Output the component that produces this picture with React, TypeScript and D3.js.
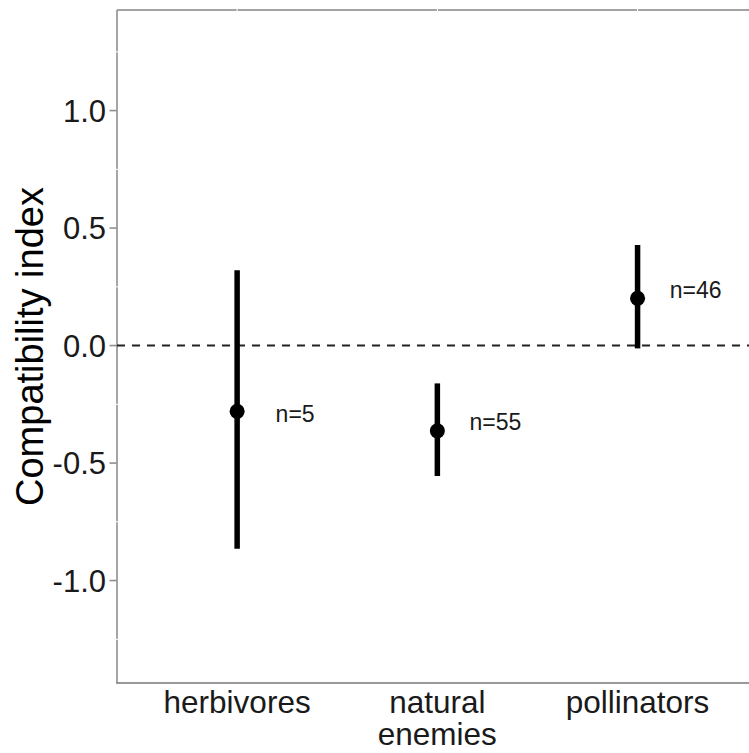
import React from "react";
import * as d3 from "d3";

const categories = ["herbivores", "natural enemies", "pollinators"];
const categoryLines = [["herbivores"], ["natural", "enemies"], ["pollinators"]];
const means = [-0.28, -0.363, 0.201];
const lowers = [-0.865, -0.555, -0.012];
const uppers = [0.32, -0.161, 0.428];
const nLabels = ["n=5", "n=55", "n=46"];
const labelY = [-0.291, -0.324, 0.236];
const yTicks = [-1.0, -0.5, 0.0, 0.5, 1.0];
const yMinor = [-1.25, -0.75, -0.25, 0.25, 0.75, 1.25];

const W = 749;
const H = 753;
const left = 117;
const top = 10;
const bottom = 683;
const right = 749;

export default function App() {
  const y = d3.scaleLinear().domain([-1.436, 1.428]).range([bottom, top]);
  const x = d3.scalePoint<string>().domain(categories).range([left, 757.7]).padding(0.6);
  const font = "'Liberation Sans', Arial, sans-serif";

  return (
    <svg width={W} height={H} style={{ position: "absolute", left: 0, top: 0, background: "#fff" }} fontFamily={font}>
      {/* border lines */}
      <line x1={left} x2={right} y1={top} y2={top} stroke="#858585" strokeWidth={1.6} />
      <line x1={left} x2={left} y1={top} y2={bottom} stroke="#8f8f8f" strokeWidth={1.6} />
      {/* white grid lines */}
      {yMinor.map((v) => (
        <line key={"gm" + v} x1={left - 1} x2={right} y1={y(v)} y2={y(v)} stroke="#fff" strokeWidth={1} />
      ))}
      {categories.map((c) => (
        <line key={"gx" + c} x1={x(c)} x2={x(c)} y1={top - 1} y2={bottom} stroke="#fff" strokeWidth={1} />
      ))}
      <line x1={left - 0.8} x2={right} y1={bottom} y2={bottom} stroke="#777" strokeWidth={1.6} />
      {/* y ticks */}
      {yTicks.map((v) => (
        <g key={"t" + v}>
          <line x1={left - 7.5} x2={left} y1={y(v)} y2={y(v)} stroke="#8f8f8f" strokeWidth={1.6} />
          <text x={106} y={y(v)} dy="0.36em" textAnchor="end" fontSize={31} fill="#1a1a1a">
            {d3.format(".1f")(v).replace("−", "-")}
          </text>
        </g>
      ))}
      {/* zero line */}
      <line x1={left} x2={right} y1={y(0)} y2={y(0)} stroke="#222" strokeWidth={2} strokeDasharray="8,7" />
      {/* error bars and points */}
      {categories.map((c, i) => (
        <g key={"p" + c}>
          <line x1={x(c)} x2={x(c)} y1={y(lowers[i])} y2={y(uppers[i])} stroke="#000" strokeWidth={5.5} />
          <circle cx={x(c)} cy={y(means[i])} r={7.5} fill="#000" />
          <text x={(x(c) as number) + 58} y={y(labelY[i])} dy="0.36em" textAnchor="middle" fontSize={23} fill="#1a1a1a">
            {nLabels[i]}
          </text>
        </g>
      ))}
      {/* x labels */}
      {categories.map((c, i) => (
        <text key={"xl" + c} x={x(c)} y={713} textAnchor="middle" fontSize={31.5} fill="#1a1a1a">
          {categoryLines[i].map((ln, j) => (
            <tspan key={j} x={x(c)} dy={j === 0 ? 0 : 32}>
              {ln}
            </tspan>
          ))}
        </text>
      ))}
      {/* y title */}
      <text transform={`translate(43, ${(top + bottom) / 2}) rotate(-90)`} textAnchor="middle" fontSize={38} fill="#000">
        Compatibility index
      </text>
    </svg>
  );
}
